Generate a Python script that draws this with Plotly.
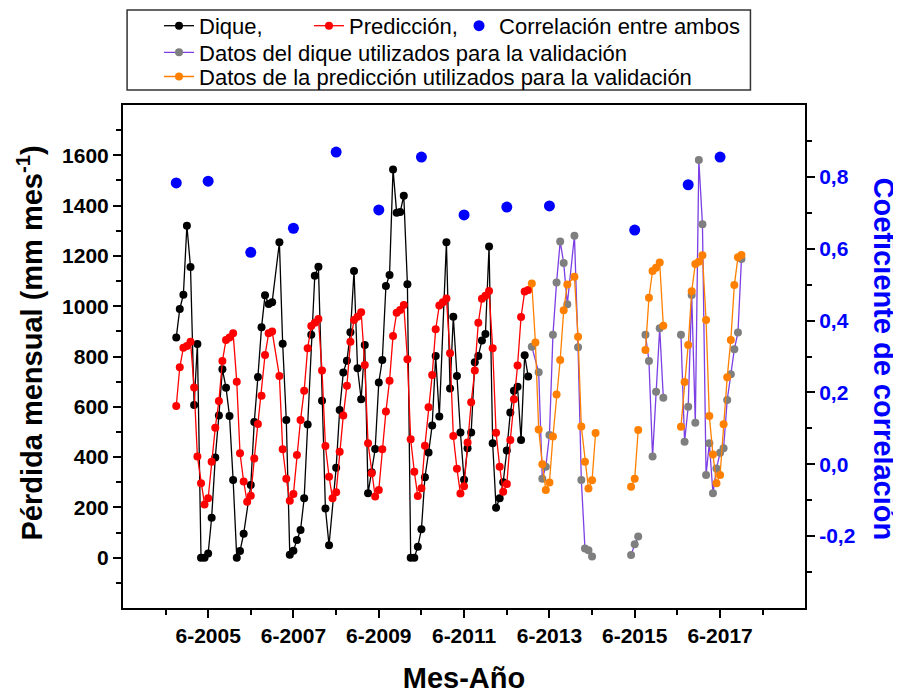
import plotly.graph_objects as go
import pandas as pd

# ---------------- data (monthly) ----------------
# None = month with no plotted point (line joins neighbours)
dique_start = "2004-09-01"
dique = [876, 989, 1046, 1320, 1156, 607, 850, 0, 0,
         17, 159, 398, 565, 749, 676, 563, 309, 0, 27, 95, None,
         289, 540, 718, 916, 1044, 1009, 1016, None, 1254, 851, 548, 12,
         28, 70, 110, 236, 530, 886, 1121, 1157, 624, 196, 50, None,
         358, 587, 736, 783, 896, 1140, 753, 630, 846, 256, 340, 432,
         697, 786, 1080, 1124, 1544, 1372, 1375, 1439, 1087, 0, 0, 44,
         113, 320, 418, 526, 802, 561, None, 1254, 673, 958, 722, 498,
         310, 435, 498, 777, 802, 864, 889, 1237, 455, 199, 236, 300,
         426, 577, 664, 680, 468, 805, 720]

pred_start = "2004-09-01"
pred = [603, 757, 835, 842, 859, 677, 402, 296, 212,
        236, 382, 517, 623, 782, 866, 876, 892, 700, 415, 303, 222,
        246, 394, 532, 644, 806, 892, 899, None, 722, 431, 314, 226,
        253, 408, 548, 664, 833, 921, 934, 949, 744, 444, 322, 236,
        260, 421, 565, 684, 859, 945, 958, 976, 766, 455, 336, 243,
        269, 431, 581, 704, 882, 974, 985, 1005, 789, 471, 342, 245,
        276, 445, 598, 726, 908, 1003, 1016, 1031, 813, 484, 354, 255,
        284, 458, 618, 744, 934, 1030, 1042, 1060, 833, 497, 362, 262,
        293, 468, 630, 764, 957, 1058, 1064]

# validation series: separate segments (line breaks between them)
val_dique_segments = [
    ("2013-01-01", [839, None, 737, 314, 362, 488, 886, 1094, 1257, 1172,
                    1008, None, 1280, 837, 309, 37, 30, 5]),
    ("2015-05-01", [11, 53, 84]),
    ("2015-09-01", [886, 782, 402, 660, 912, 636]),
    ("2016-07-01", [886, 461, 600, 1045, 537, 1581, 1326, 329, 455, 256,
                    355, 417, 435, 627, 729, 829, 895, 1188]),
]
val_pred_segments = [
    ("2013-01-01", [1090, 856, 510, 372, 269, 299, 482, 649, 786, 984,
                    1086, None, 1117, 879, 522, 382, 275, 308, 496]),
    ("2015-05-01", [282, 314, 508]),
    ("2015-09-01", [826, 1034, 1140, 1153, 1174, 922]),
    ("2016-07-01", [521, 699, 846, 1059, 1168, 1177, 1203, 945, 563, 410,
                    296, 329, 531, 717, 866, 1084, 1195, 1204]),
]

corr_dates = ["2004-09-01", "2005-06-01", "2006-06-01", "2007-06-01",
              "2008-06-01", "2009-06-01", "2010-06-01", "2011-06-01",
              "2012-06-01", "2013-06-01", "2015-06-01", "2016-09-01",
              "2017-06-01"]
corr = [0.783, 0.788, 0.590, 0.657, 0.869, 0.708, 0.855, 0.694,
        0.716, 0.719, 0.652, 0.778, 0.855]

y_ticks = [0, 200, 400, 600, 800, 1000, 1200, 1400, 1600]
y_minor = [-100, 100, 300, 500, 700, 900, 1100, 1300, 1500, 1700]
y2_ticks = [-0.2, 0.0, 0.2, 0.4, 0.6, 0.8]
y2_labels = ["-0,2", "0,0", "0,2", "0,4", "0,6", "0,8"]
y2_minor = [-0.3, -0.1, 0.1, 0.3, 0.5, 0.7, 0.9]


def month_series(start, values):
    dates = pd.date_range(start=start, periods=len(values), freq="MS")
    xs, ys = [], []
    for d, v in zip(dates, values):
        if v is None:
            continue
        xs.append(d.strftime("%Y-%m-%d"))
        ys.append(v)
    return xs, ys


def join_segments(segs):
    xs, ys = [], []
    for i, (start, vals) in enumerate(segs):
        if i:
            xs.append(None)
            ys.append(None)
        x, y = month_series(start, vals)
        xs += x
        ys += y
    return xs, ys


FONT = "Liberation Sans, Arial, sans-serif"
BLUE = "#0000ff"

fig = go.Figure()

x, y = month_series(dique_start, dique)
fig.add_trace(go.Scatter(x=x, y=y, name="Dique,", mode="lines+markers",
                         legend="legend",
                         line=dict(color="black", width=1.3),
                         marker=dict(color="black", size=8)))
x, y = month_series(pred_start, pred)
fig.add_trace(go.Scatter(x=x, y=y, name="Predicción,", mode="lines+markers",
                         legend="legend2",
                         line=dict(color="#ff0000", width=1.3),
                         marker=dict(color="#ff0000", size=8)))
fig.add_trace(go.Scatter(x=corr_dates, y=corr, name="Correlación entre ambos",
                         mode="markers", yaxis="y2", legend="legend3",
                         marker=dict(color=BLUE, size=11)))
x, y = join_segments(val_dique_segments)
fig.add_trace(go.Scatter(x=x, y=y, name="Datos del dique utilizados para la validación",
                         mode="lines+markers", connectgaps=False, legend="legend4",
                         line=dict(color="#7b3fe4", width=1.3),
                         marker=dict(color="#7f7f7f", size=8)))
x, y = join_segments(val_pred_segments)
fig.add_trace(go.Scatter(x=x, y=y, name="Datos de la predicción utilizados para la validación",
                         mode="lines+markers", connectgaps=False, legend="legend5",
                         line=dict(color="#ff8000", width=1.3),
                         marker=dict(color="#ff8000", size=8)))

tickfont = dict(family=FONT, size=21, color="black", weight="bold")
legfont = dict(family=FONT, size=22, color="black")
titlefont = dict(family=FONT, size=29, color="black", weight="bold")


def leg(xp, yp):
    return dict(orientation="h", x=xp, y=yp, xanchor="left", yanchor="top",
                font=legfont, bgcolor="rgba(0,0,0,0)", borderwidth=0)


fig.update_layout(
    width=893, height=686, autosize=False,
    margin=dict(l=115, r=96, t=97, b=86, autoexpand=False),
    paper_bgcolor="white", plot_bgcolor="white",
    font=dict(family=FONT, color="black"),
    showlegend=True,
    legend=leg(0.0528, 1.199),
    legend2=leg(0.2727, 1.199),
    legend3=leg(0.4927, 1.199),
    legend4=leg(0.0528, 1.146),
    legend5=leg(0.0528, 1.098),
    xaxis=dict(type="date", range=["2003-06-03", "2019-05-29"],
               tick0="2005-06-01", dtick="M24", tickformat="%-m-%Y",
               ticks="outside", ticklen=8, tickwidth=2, tickcolor="black",
               minor=dict(tick0="2004-06-01", dtick="M12", ticks="outside",
                          ticklen=5, tickwidth=2, tickcolor="black"),
               showline=True, linewidth=2, linecolor="black", mirror=True,
               showgrid=False, zeroline=False, tickfont=tickfont,
               title=dict(text="Mes-Año", standoff=26, font=titlefont)),
    yaxis=dict(range=[-200, 1800], tickmode="array", tickvals=y_ticks,
               ticks="outside", ticklen=8, tickwidth=2, tickcolor="black",
               minor=dict(tickmode="array", tickvals=y_minor, ticks="outside",
                          ticklen=5, tickwidth=2, tickcolor="black"),
               showline=True, linewidth=2, linecolor="black", mirror=True,
               showgrid=False, zeroline=False, tickfont=tickfont),
    yaxis2=dict(overlaying="y", side="right", range=[-0.4, 1.0],
                tickmode="array", tickvals=y2_ticks, ticktext=y2_labels,
                ticks="outside", ticklen=8, tickwidth=2, tickcolor="black",
                minor=dict(tickmode="array", tickvals=y2_minor, ticks="outside",
                           ticklen=5, tickwidth=2, tickcolor="black"),
                showline=True, linewidth=2, linecolor="black",
                showgrid=False, zeroline=False,
                tickfont=dict(family=FONT, size=21, color=BLUE, weight="bold")),
    shapes=[dict(type="rect", xref="paper", yref="paper",
                 x0=0.006, x1=0.92, y0=1.0296, y1=1.1889,
                 line=dict(color="#333333", width=1.5), fillcolor="rgba(0,0,0,0)")],
    annotations=[
        dict(text="Pérdida mensual (mm mes<sup>-1</sup>)", textangle=-90,
             xref="paper", yref="paper", x=-0.137, y=0.527,
             xanchor="center", yanchor="middle", showarrow=False,
             font=titlefont),
        dict(text="Coeficiente de correlación", textangle=90,
             xref="paper", yref="paper", x=1.1165, y=0.495,
             xanchor="center", yanchor="middle", showarrow=False,
             font=dict(family=FONT, size=29, color=BLUE, weight="bold")),
    ],
)

fig.write_html("out.html")
